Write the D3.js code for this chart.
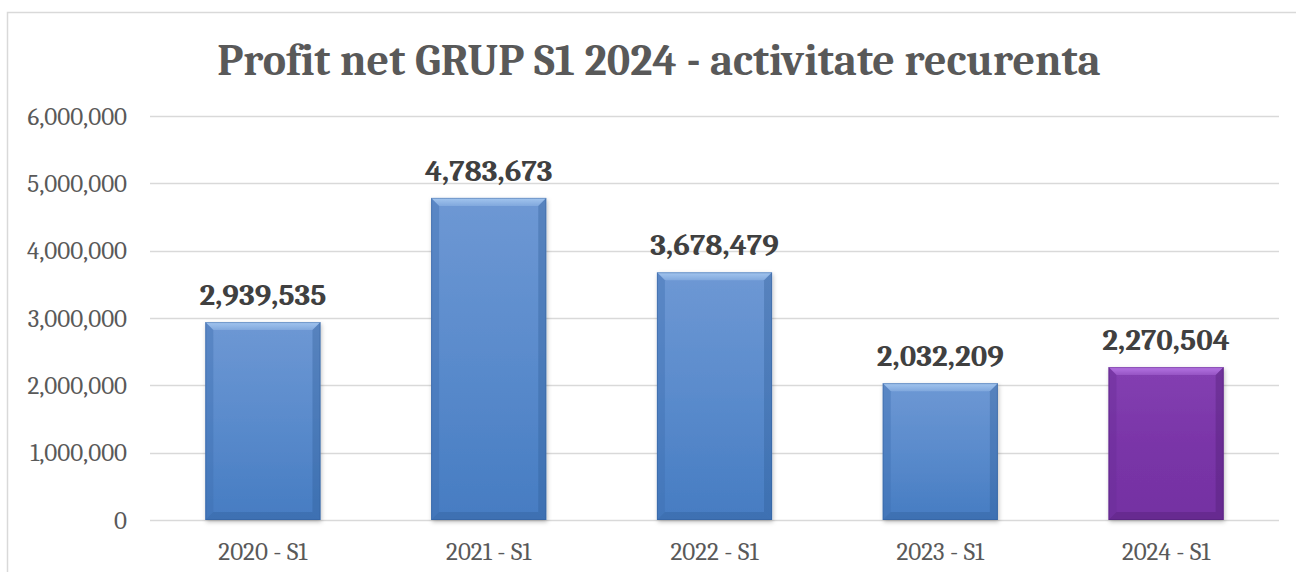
<!DOCTYPE html>
<html><head><meta charset="utf-8">
<script src="https://cdn.jsdelivr.net/npm/d3@7"></script>
<style>
html,body{margin:0;padding:0;background:#fff;}
svg{display:block;}
</style></head>
<body>
<svg id="chart" width="1296" height="572"></svg>
<script>
const categories = ["2020 - S1","2021 - S1","2022 - S1","2023 - S1","2024 - S1"];
const values = [2939535, 4783673, 3678479, 2032209, 2270504];
const yTicks = [0,1000000,2000000,3000000,4000000,5000000,6000000];
const title = "Profit net GRUP S1 2024 - activitate recurenta";
const barColors = ["blue","blue","blue","blue","purple"];

const svg = d3.select("#chart");
const FONT = "Cambria, Caladea, 'Liberation Serif', serif";
const m = {left:150, right:1279, top:116, bottom:520};

// outer border
svg.append("rect").attr("x",7.5).attr("y",12.5).attr("width",1300).attr("height",600)
  .attr("fill","#fff").attr("stroke","#d9d9d9").attr("stroke-width",1.5);

const x = d3.scaleBand().domain(categories).range([m.left,m.right]).paddingInner(0.49).paddingOuter(0.245);
const y = d3.scaleLinear().domain([0,6000000]).range([m.bottom,m.top]);

const defs = svg.append("defs");
const palettes = {
  blue:{top:"#6e98d4", mid:"#5a8bcc", bot:"#467cc2", light:"#a6c8f0", dark:"#2d5b96", side:"#3f6fae"},
  purple:{top:"#8440b2", mid:"#7a35a8", bot:"#7431a2", light:"#b878e6", dark:"#4c1c70", side:"#6a2c96"}
};
Object.entries(palettes).forEach(([k,p])=>{
  const g = defs.append("linearGradient").attr("id","g_"+k).attr("x1",0).attr("y1",0).attr("x2",0).attr("y2",1);
  g.append("stop").attr("offset","0%").attr("stop-color",p.top);
  g.append("stop").attr("offset","50%").attr("stop-color",p.mid);
  g.append("stop").attr("offset","100%").attr("stop-color",p.bot);
  const gt = defs.append("linearGradient").attr("id","gt_"+k).attr("x1",0).attr("y1",0).attr("x2",0).attr("y2",1);
  gt.append("stop").attr("offset","0%").attr("stop-color",p.light).attr("stop-opacity",0.95);
  gt.append("stop").attr("offset","100%").attr("stop-color",p.light).attr("stop-opacity",0.35);
});
const f = defs.append("filter").attr("id","shadow").attr("x","-10%").attr("y","-10%").attr("width","130%").attr("height","130%");
f.append("feDropShadow").attr("dx",1).attr("dy",2).attr("stdDeviation",2.2).attr("flood-color","#000").attr("flood-opacity",0.25);

// gridlines
svg.append("g").selectAll("line").data(yTicks).join("line")
  .attr("x1",m.left).attr("x2",m.right)
  .attr("y1",d=>Math.round(y(d))+0.5).attr("y2",d=>Math.round(y(d))+0.5)
  .attr("stroke","#d9d9d9").attr("stroke-width",1.5);

// y axis labels
const fmt = d3.format(",");
const yAxis = d3.axisLeft(y).tickValues(yTicks).tickFormat(fmt).tickSize(0).tickPadding(0);
const ya = svg.append("g").attr("transform",`translate(${m.left-23},0)`).call(yAxis);
ya.select(".domain").remove();
ya.selectAll("text").attr("font-family",FONT).attr("font-size",25).attr("fill","#595959").attr("dy","0.33em");

// x axis labels
const xAxis = d3.axisBottom(x).tickSize(0).tickPadding(0);
const xa = svg.append("g").attr("transform",`translate(0,${m.bottom+22})`).call(xAxis);
xa.select(".domain").remove();
xa.selectAll("text").attr("font-family",FONT).attr("font-size",25).attr("fill","#595959").attr("dy","0.71em");

// bars
const bars = svg.append("g").selectAll("g").data(values).join("g");
bars.each(function(v,i){
  const g = d3.select(this);
  const k = barColors[i], p = palettes[k];
  const x0 = x(categories[i]), w = x.bandwidth();
  const y0 = y(v), y1 = y(0), h = y1-y0;
  const b = 8;
  g.append("rect").attr("x",x0).attr("y",y0).attr("width",w).attr("height",h)
    .attr("fill","url(#g_"+k+")").attr("filter","url(#shadow)");
  g.append("polygon").attr("points",[[x0,y0],[x0+w,y0],[x0+w-b,y0+b],[x0+b,y0+b]].join(" "))
    .attr("fill","url(#gt_"+k+")");
  g.append("polygon").attr("points",[[x0,y0],[x0+b,y0+b],[x0+b,y1-b],[x0,y1]].join(" "))
    .attr("fill",p.side).attr("opacity",0.4);
  g.append("polygon").attr("points",[[x0+w,y0],[x0+w,y1],[x0+w-b,y1-b],[x0+w-b,y0+b]].join(" "))
    .attr("fill",p.dark).attr("opacity",0.35);
  g.append("polygon").attr("points",[[x0,y1],[x0+w,y1],[x0+w-b,y1-b],[x0+b,y1-b]].join(" "))
    .attr("fill",p.dark).attr("opacity",0.35);
  g.append("rect").attr("x",x0+0.5).attr("y",y0+0.5).attr("width",w-1).attr("height",h-1)
    .attr("fill","none").attr("stroke",p.dark).attr("stroke-opacity",0.4);
});

// value labels
svg.append("g").selectAll("text").data(values).join("text")
  .attr("x",(d,i)=>x(categories[i])+x.bandwidth()/2)
  .attr("y",d=>y(d)-17)
  .attr("text-anchor","middle")
  .attr("font-family",FONT).attr("font-weight","bold").attr("font-size",31).attr("fill","#404040")
  .text(d=>fmt(d));

// title
svg.append("text").attr("x",659).attr("y",75).attr("text-anchor","middle")
  .attr("font-family",FONT).attr("font-weight","bold").attr("font-size",44).attr("fill","#595959")
  .text(title);
</script>
</body></html>
